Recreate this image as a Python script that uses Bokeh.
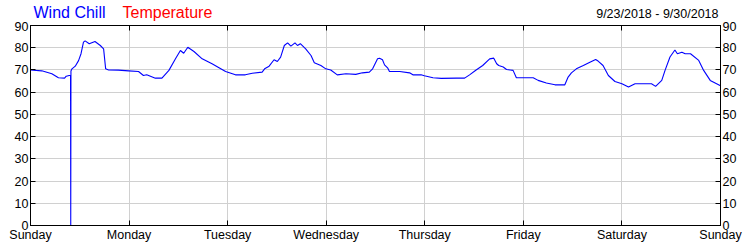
from bokeh.plotting import figure
from bokeh.models import FixedTicker, LinearAxis, Range1d, CustomLabelingPolicy
from bokeh.layouts import column
from bokeh.core.properties import value
from bokeh.embed import file_html
from bokeh.resources import INLINE

# hours since Sunday 9/23/2018 00:00
hours = [0, 2.75, 5.2, 6.8, 8.3, 8.7, 9.4, 9.75, 9.8, 9.85, 10.1, 10.9, 11.7, 12.3, 12.9, 13.3,
         14.3, 15.7, 17, 17.8, 18.3, 19, 21.4, 23.9, 26.3, 27.5, 28.3, 30.4, 32, 33.7, 35.3,
         36.5, 37.3, 38.3, 39.8, 41.8, 44.2, 45.9, 47.5, 49.9, 52.3, 54, 56.4, 57, 58.1, 59.3,
         60.1, 60.9, 61.8, 62.6, 63.4, 64.4, 65, 65.7, 67, 68.3, 69.1, 70.7, 71.9, 73.1, 74.7,
         76.8, 79.2, 80.8, 82.5, 83.3, 84.5, 85, 85.7, 86.2, 87, 87.4, 89.9, 92.3, 93.1, 95.1,
         95.9, 98, 100, 103.7, 105.7, 106.9, 108.5, 110.1, 111.8, 112.8, 113.5, 114, 115.1,
         115.9, 117.5, 118.3, 120, 122.4, 123.6, 125.6, 127.7, 130.1, 130.9, 131.7, 132.9,
         134.6, 136.2, 137.6, 138.2, 139.4, 140.7, 142.3, 144, 145.6, 147.2, 151.2, 152.2,
         153.7, 154.5, 155.7, 156.9, 157.5, 158.6, 159.4, 160.7, 162.7, 163.9, 165.5, 168]
wind_chill = [70, 69.6, 68.3, 66.5, 66.3, 67.2, 67.5, 67.6, 0, 69.5, 70.5, 71.7, 74.2, 77.3, 82.5, 83.1,
              81.8, 82.8, 81, 79.5, 70.5, 70, 69.9, 69.6, 69.3, 67.5, 67.8, 66.3, 66.3, 69.8, 75,
              78.75, 77.5, 80.2, 78.3, 75, 72.8, 71, 69.3, 67.8, 67.8, 68.5, 69, 70.5, 71.7, 74.6,
              73.8, 75.8, 81, 82.2, 80.7, 82.2, 81, 81.8, 79.5, 76.5, 73.2, 72, 70.5, 70, 67.8,
              68.3, 68, 68.7, 69, 70.5, 75, 75.3, 74.6, 72.3, 70.8, 69.3, 69.3, 68.7, 67.8, 67.8,
              67.4, 66.5, 66.2, 66.3, 66.3, 67.8, 70, 72, 75, 75.3, 72.8, 72, 71.3,
              70.2, 69.8, 66.5, 66.5, 66.5, 65.3, 64.1, 63.3, 63.3, 66.8, 68.7, 70.5,
              72, 73.5, 74.7, 74, 72, 67.5, 64.8, 63.8, 62.3, 63.8, 63.8, 62.6,
              65.3, 69.8, 75.8, 79, 77.3, 78, 77.3, 77.3, 74.3, 69.8, 65.3, 62.9]

day_ticks = [0, 24, 48, 72, 96, 120, 144, 168]
day_labels = ["Sunday", "Monday", "Tuesday", "Wednesday", "Thursday", "Friday", "Saturday", "Sunday"]
y_ticks = [0, 10, 20, 30, 40, 50, 60, 70, 80, 90]
series_names = ["Wind Chill", "Temperature"]
series_colors = ["#0000ff", "#ff0000"]
date_range = "9/23/2018 - 9/30/2018"

FONT = "Liberation Sans"
HEADER_H = 21

# ---- header strip (its frame is aligned with the chart frame: x = canvas pixel) ----
h = figure(frame_width=690, frame_height=HEADER_H, output_backend="svg", toolbar_location=None,
           x_range=Range1d(30, 720), y_range=Range1d(0, HEADER_H),
           min_border_left=30, min_border_right=30, min_border_top=0, min_border_bottom=0,
           x_axis_location=None, y_axis_location=None)
h.outline_line_color = None
h.grid.visible = False
h.border_fill_color = "white"
h.background_fill_color = "white"
h.text(x=[33, 122], y=[HEADER_H - 12, HEADER_H - 12], text=series_names,
       text_color=series_colors, text_font=value(FONT), text_font_size="16px",
       text_baseline="middle", text_align="left")
h.text(x=[718], y=[HEADER_H - 13], text=[date_range], text_color="black",
       text_font=value(FONT), text_font_size="12.5px",
       text_baseline="middle", text_align="right")

# ---- main chart ----
p = figure(frame_width=690, frame_height=200, output_backend="svg", toolbar_location=None,
           x_range=Range1d(0, 168), y_range=Range1d(0, 90),
           min_border_left=30, min_border_right=30, min_border_top=0, min_border_bottom=25,
           x_axis_location=None, y_axis_location=None)
p.outline_line_color = "black"
p.outline_line_width = 1
p.background_fill_color = "white"
p.border_fill_color = "white"

def style_axis(ax, ticks):
    ax.ticker = FixedTicker(ticks=ticks)
    ax.major_tick_in = 5
    ax.major_tick_out = 0
    ax.minor_tick_line_color = None
    ax.axis_line_color = "black"
    ax.major_tick_line_color = "black"
    ax.major_label_text_font = FONT
    ax.major_label_text_font_size = "12.5px"
    ax.major_label_text_color = "black"
    ax.major_label_standoff = 2

xb = LinearAxis()
style_axis(xb, day_ticks)
xb.major_label_overrides = {t: l for t, l in zip(day_ticks, day_labels)}
p.add_layout(xb, "below")
xt = LinearAxis()
style_axis(xt, day_ticks)
xt.major_label_standoff = 0
xt.major_label_text_font_size = "1px"
xt.major_label_policy = CustomLabelingPolicy(code="return new Set()")
p.add_layout(xt, "above")
yl = LinearAxis()
style_axis(yl, y_ticks)
p.add_layout(yl, "left")
yr = LinearAxis()
style_axis(yr, y_ticks)
p.add_layout(yr, "right")

p.xgrid.ticker = FixedTicker(ticks=day_ticks)
p.ygrid.ticker = FixedTicker(ticks=y_ticks)
p.xgrid.grid_line_color = "#d0d0d0"
p.ygrid.grid_line_color = "#d0d0d0"

p.line(hours, wind_chill, line_color="#0000ff", line_width=1.1)

layout = column(h, p, spacing=0)
open("out.html", "w").write(file_html(layout, INLINE))
